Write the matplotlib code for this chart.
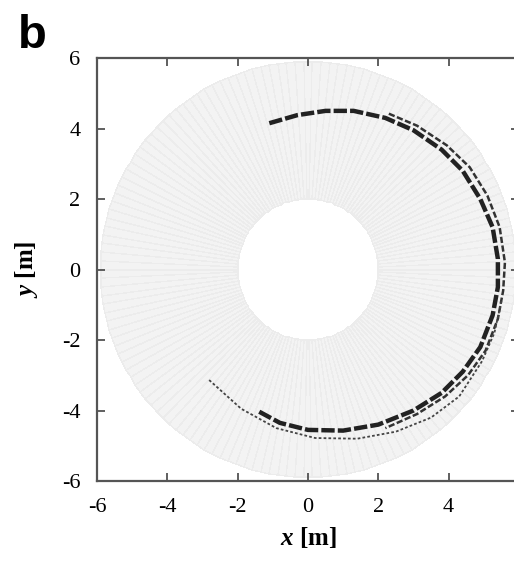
import numpy as np
import matplotlib
matplotlib.use("Agg")
import matplotlib.pyplot as plt
from matplotlib.colors import ListedColormap

plt.rcParams['font.family'] = ['Liberation Serif', 'DejaVu Serif']
plt.rcParams['mathtext.fontset'] = 'custom'
plt.rcParams['mathtext.it'] = 'Liberation Serif:italic:bold'
plt.rcParams['mathtext.rm'] = 'Liberation Serif:bold'

# annulus mesh (domain)
r_inner = 2.0
r_outer = 5.9
n_sectors = 150
n_rings = 1

# trajectories, (x, y) in metres
track_main_x = [-1.1, -0.3, 0.5, 1.3, 2.2, 3.0, 3.8, 4.4, 4.9, 5.25, 5.4, 5.4,
                5.25, 4.9, 4.4, 3.8, 3.0, 2.0, 1.0, 0.0, -0.8, -1.45]
track_main_y = [4.15, 4.38, 4.5, 4.5, 4.3, 3.95, 3.4, 2.8, 2.0, 1.2, 0.3, -0.5,
                -1.3, -2.2, -2.9, -3.5, -4.0, -4.4, -4.57, -4.55, -4.35, -4.0]

track_mid_x = [2.3, 3.1, 3.95, 4.6, 5.1, 5.45, 5.6, 5.55, 5.4, 5.05, 4.55, 3.9, 3.1, 2.2]
track_mid_y = [4.42, 4.08, 3.52, 2.9, 2.1, 1.2, 0.2, -0.6, -1.4, -2.3, -3.0, -3.6, -4.1, -4.5]

track_outer_x = [5.5, 5.3, 4.95, 4.3, 3.5, 2.5, 1.4, 0.2, -0.9, -1.9, -2.85]
track_outer_y = [-0.9, -1.8, -2.6, -3.6, -4.2, -4.6, -4.8, -4.78, -4.5, -3.95, -3.1]

ticks = [-6, -4, -2, 0, 2, 4, 6]

fig = plt.figure(figsize=(5.14, 5.62), dpi=100)
ax = fig.add_axes([0.1887, 0.1441, 0.821, 0.7527])

# light gray polar mesh
theta = np.linspace(0, 2 * np.pi, n_sectors + 1)
rad = np.linspace(r_inner, r_outer, n_rings + 1)
T, R = np.meshgrid(theta, rad)
ax.pcolormesh(R * np.cos(T), R * np.sin(T), np.zeros((n_rings, n_sectors)),
              cmap=ListedColormap(['#f3f3f3']), shading='flat',
              edgecolors='#ececec', linewidth=0.3, zorder=1)

ax.plot(track_main_x, track_main_y, color='#222222', lw=3.2,
        dashes=(3, 0.7), solid_capstyle='butt', zorder=4)
ax.plot(track_mid_x, track_mid_y, color='#333333', lw=1.8,
        dashes=(2.5, 1), zorder=3)
ax.plot(track_outer_x, track_outer_y, color='#444444', lw=1.3,
        dashes=(1.5, 1.2), zorder=3)

ax.set_xlim(-6, 6)
ax.set_ylim(-6, 6)
ax.set_xticks(ticks)
ax.set_yticks(ticks)
ax.set_xticklabels([str(t) for t in ticks])
ax.set_yticklabels([str(t) for t in ticks])
ax.tick_params(direction='in', length=6, width=1.2, color='#444444',
               labelsize=16, top=True, right=True)
ax.tick_params(axis='x', pad=12)
ax.tick_params(axis='y', pad=12)
for s in ax.spines.values():
    s.set_color('#555555')
    s.set_linewidth(1.6)

ax.set_xlabel(r'$x$ [m]', fontsize=18, fontweight='bold', labelpad=6)
ax.set_ylabel(r'$y$ [m]', fontsize=18, fontweight='bold', labelpad=16)

fig.text(0.035, 0.897, 'b', fontsize=34, fontweight='bold',
         family='Liberation Sans', va='bottom')

fig.savefig('out.png', dpi=100)
